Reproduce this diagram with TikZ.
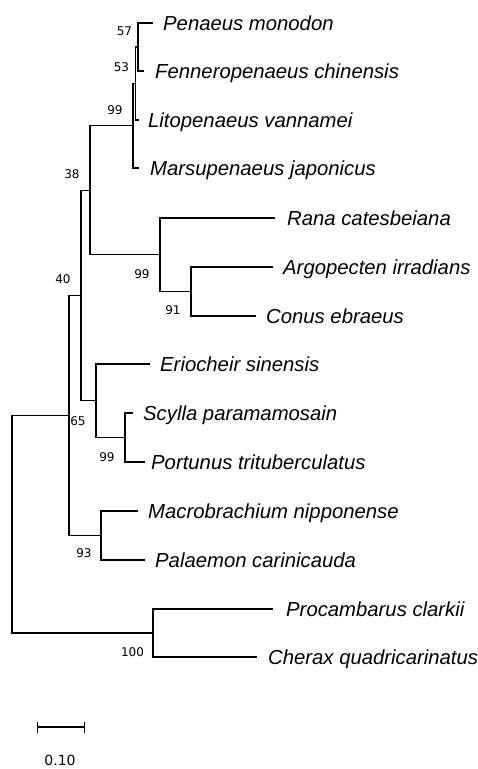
\documentclass[tikz,border=0pt]{standalone}
\usepackage{fontspec}
\setmainfont{Liberation Sans}
\newfontfamily\numfont{DejaVu Sans}
\usetikzlibrary{arrows.meta}
\begin{document}
\begin{tikzpicture}[x=1pt,y=-1pt,
  br/.style={line width=1.2pt},
  taxon/.style={anchor=base west, inner sep=0pt, font=\fontsize{20.3}{22}\selectfont\itshape},
  boot/.style={anchor=center, inner sep=0pt, font=\numfont\fontsize{12}{14}\selectfont},
  scalelab/.style={anchor=base, inner sep=0pt, font=\numfont\fontsize{14}{16}\selectfont}]
\useasboundingbox (0,0) rectangle (478,769);
% tips
\coordinate (tPM) at (153,23);
\coordinate (tFC) at (144,71);
\coordinate (tLV) at (139,120);
\coordinate (tMJ) at (139,168);
\coordinate (tRC) at (275,218);
\coordinate (tAI) at (273,267);
\coordinate (tCE) at (256,316);
\coordinate (tES) at (150,364);
\coordinate (tSP) at (133,413);
\coordinate (tPT) at (145,462);
\coordinate (tMN) at (138,511);
\coordinate (tPC) at (145,560);
\coordinate (tPR) at (273,609);
\coordinate (tCQ) at (257,657);
% internal nodes
\coordinate (n1) at (138,47);
\coordinate (n2) at (135.5,83.5);
\coordinate (n3) at (133,125.75);
\coordinate (n8) at (191,291.5);
\coordinate (n7) at (160,254.75);
\coordinate (n4) at (90,190.25);
\coordinate (n10) at (125,437.5);
\coordinate (n9) at (96,400.75);
\coordinate (n5) at (81,295.5);
\coordinate (n11) at (101,535.5);
\coordinate (n6) at (69,415.5);
\coordinate (n12) at (153,633);
\coordinate (root) at (12,524.25);
% branches
\draw[br] (n1) |- (tPM);
\draw[br] (n1) |- (tFC);
\draw[br] (n2) |- (n1);
\draw[br] (n2) |- (tLV);
\draw[br] (n3) |- (n2);
\draw[br] (n3) |- (tMJ);
\draw[br] (n8) |- (tAI);
\draw[br] (n8) |- (tCE);
\draw[br] (n7) |- (tRC);
\draw[br] (n7) |- (n8);
\draw[br] (n4) |- (n3);
\draw[br] (n4) |- (n7);
\draw[br] (n10) |- (tSP);
\draw[br] (n10) |- (tPT);
\draw[br] (n9) |- (tES);
\draw[br] (n9) |- (n10);
\draw[br] (n5) |- (n4);
\draw[br] (n5) |- (n9);
\draw[br] (n11) |- (tMN);
\draw[br] (n11) |- (tPC);
\draw[br] (n6) |- (n5);
\draw[br] (n6) |- (n11);
\draw[br] (n12) |- (tPR);
\draw[br] (n12) |- (tCQ);
\draw[br] (root) |- (n6);
\draw[br] (root) |- (n12);
% taxon labels
\node[taxon] (lPM) at (163,30) {Penaeus monodon};
\node[taxon] (lFC) at (155,78) {Fenneropenaeus chinensis};
\node[taxon] (lLV) at (148,127) {Litopenaeus vannamei};
\node[taxon] (lMJ) at (150,175) {Marsupenaeus japonicus};
\node[taxon] (lRC) at (287,225) {Rana catesbeiana};
\node[taxon] (lAI) at (283,274) {Argopecten irradians};
\node[taxon] (lCE) at (266,323) {Conus ebraeus};
\node[taxon] (lES) at (160,371) {Eriocheir sinensis};
\node[taxon] (lSP) at (143,420) {Scylla paramamosain};
\node[taxon] (lPT) at (151,469) {Portunus trituberculatus};
\node[taxon] (lMN) at (148,518) {Macrobrachium nipponense};
\node[taxon] (lPC) at (155,567) {Palaemon carinicauda};
\node[taxon] (lPR) at (286,616) {Procambarus clarkii};
\node[taxon] (lCQ) at (268,664) {Cherax quadricarinatus};
% bootstrap values
\node[boot] (b1) at (124.5,31) {57};
\node[boot] (b2) at (121.5,67.5) {53};
\node[boot] (b3) at (115,110.5) {99};
\node[boot] (b4) at (72,174) {38};
\node[boot] (b5) at (63,279) {40};
\node[boot] (b6) at (142,274) {99};
\node[boot] (b7) at (173,310) {91};
\node[boot] (b8) at (78,421) {65};
\node[boot] (b9) at (107,457) {99};
\node[boot] (b10) at (84,553) {93};
\node[boot] (b11) at (132.5,652) {100};
% scale bar
\coordinate (sbL) at (37,727);
\coordinate (sbR) at (85,727);
\draw[br, {Bar[width=11pt]}-{Bar[width=11pt]}] (sbL) -- (sbR);
\node[scalelab] (sblab) at (60,765) {0.10};
\end{tikzpicture}
\end{document}
